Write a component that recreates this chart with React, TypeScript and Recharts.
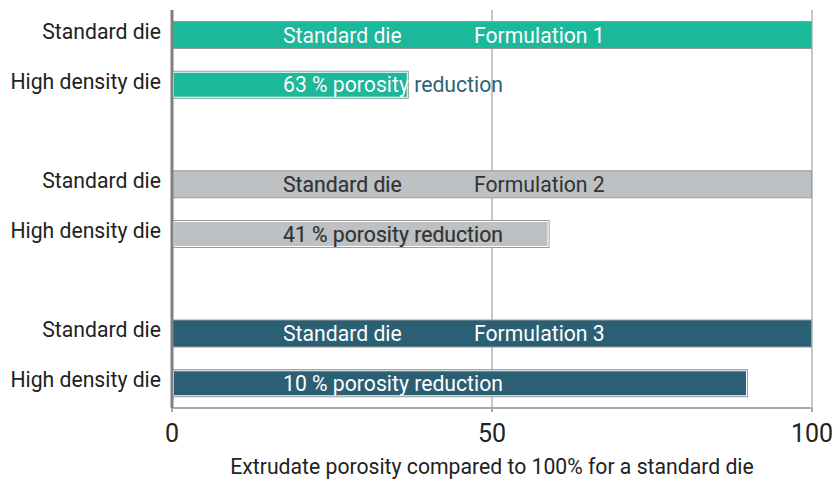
import React from "react"
import { BarChart, Bar, XAxis, YAxis, CartesianGrid } from "recharts"

// rows top to bottom, the empty ids are spacer rows between formulations
const rowIds = ["f1s", "f1h", "gap1", "f2s", "f2h", "gap2", "f3s", "f3h"]
const rowNames = ["Standard die", "High density die", "", "Standard die", "High density die", "", "Standard die", "High density die"]
const rowKinds = ["std", "hd", "", "std", "hd", "", "std", "hd"]
const rowFormulation = [1, 1, 0, 2, 2, 0, 3, 3]
const porosity = [100, 37, null, 100, 59, null, 100, 90]
const barTexts = ["Standard die", "63 % porosity reduction", "", "Standard die", "41 % porosity reduction", "", "Standard die", "10 % porosity reduction"]
const formulationTexts = ["Formulation 1", "", "", "Formulation 2", "", "", "Formulation 3", ""]
const xTicks = [0, 50, 100]
const axisTitle = "Extrudate porosity compared to 100% for a standard die"

const palette: Record<number, { fill: string; text: string; outside: string }> = {
  1: { fill: "#1bb99a", text: "#ffffff", outside: "#2b6479" },
  2: { fill: "#bec1c4", text: "#333333", outside: "#333333" },
  3: { fill: "#2b5f74", text: "#ffffff", outside: "#2b6479" },
}

const data = rowIds.map((id, i) => ({
  id,
  name: rowNames[i],
  kind: rowKinds[i],
  group: rowFormulation[i],
  value: porosity[i],
  text: barTexts[i],
  formulation: formulationTexts[i],
}))

const FONT = "Roboto, 'Noto Sans', sans-serif"
const TEXT_SIZE = 21.2

// eslint-disable-next-line @typescript-eslint/no-explicit-any
function DieBar(props: any) {
  const { x, y, width, height, index, payload } = props
  if (!payload || payload.value == null || !width) return null
  const pal = palette[payload.group]
  const clipId = `bar-clip-${index}`
  const ty = y + height / 2 + 7.5
  const lx = x + 111
  const fx = x + 302
  return (
    <g>
      <defs>
        <clipPath id={clipId}>
          <rect x={x} y={y} width={width + 1} height={height} />
        </clipPath>
      </defs>
      <rect x={x + 0.5} y={y + 0.5} width={width - 1} height={height - 1} fill={pal.fill} stroke="#9b9b9b" strokeWidth={1} />
      {payload.kind === "hd" && (
        <rect x={x + 1.5} y={y + 1.5} width={width - 3} height={height - 3} fill="none" stroke="#ffffff" strokeWidth={1} />
      )}
      <g fontFamily={FONT} fontSize={TEXT_SIZE}>
        <text x={lx} y={ty} fill={pal.outside}>{payload.text}</text>
        <text x={lx} y={ty} fill={pal.fill} clipPath={`url(#${clipId})`}>{payload.text}</text>
        <text x={lx} y={ty} fill={pal.text} clipPath={`url(#${clipId})`}>{payload.text}</text>
        {payload.formulation && (
          <text x={fx} y={ty} fill={pal.text}>{payload.formulation}</text>
        )}
      </g>
    </g>
  )
}

// eslint-disable-next-line @typescript-eslint/no-explicit-any
function RowTick({ x, y, payload }: any) {
  const i = rowIds.indexOf(payload.value)
  if (i < 0 || !rowNames[i]) return null
  return (
    <text x={x} y={y} dy={4} textAnchor="end" fill="#222" fontFamily={FONT} fontSize={TEXT_SIZE}>
      {rowNames[i]}
    </text>
  )
}

// eslint-disable-next-line @typescript-eslint/no-explicit-any
function ValueTick({ x, y, payload }: any) {
  return (
    <text x={x} y={y} dy={28} textAnchor="middle" fill="#222" fontFamily={FONT} fontSize={25}>
      {payload.value}
    </text>
  )
}

export default function App() {
  return (
    <div style={{ position: "absolute", left: 0, top: 0, width: 834, height: 479, background: "#fff", fontFamily: FONT }}>
      <BarChart
        width={834}
        height={479}
        data={data}
        layout="vertical"
        margin={{ top: 10, right: 22, bottom: 0, left: 0 }}
        barSize={28}
      >
        <CartesianGrid horizontal={false} stroke="#b5b5b5" strokeWidth={1.5} />
        <XAxis
          type="number"
          domain={[0, 100]}
          ticks={xTicks}
          height={71}
          axisLine={{ stroke: "#a9a9a9", strokeWidth: 2 }}
          tickLine={{ stroke: "#a9a9a9", strokeWidth: 2 }}
          tickSize={4}
          tick={<ValueTick />}
          label={{ value: axisTitle, position: "insideBottom", offset: 5, fill: "#222", fontSize: TEXT_SIZE, fontFamily: FONT }}
        />
        <YAxis
          type="category"
          dataKey="id"
          width={172}
          axisLine={{ stroke: "#808080", strokeWidth: 3 }}
          tickLine={false}
          tickSize={0}
          tickMargin={11}
          interval={0}
          tick={<RowTick />}
        />
        <Bar dataKey="value" shape={<DieBar />} isAnimationActive={false} />
      </BarChart>
    </div>
  )
}
